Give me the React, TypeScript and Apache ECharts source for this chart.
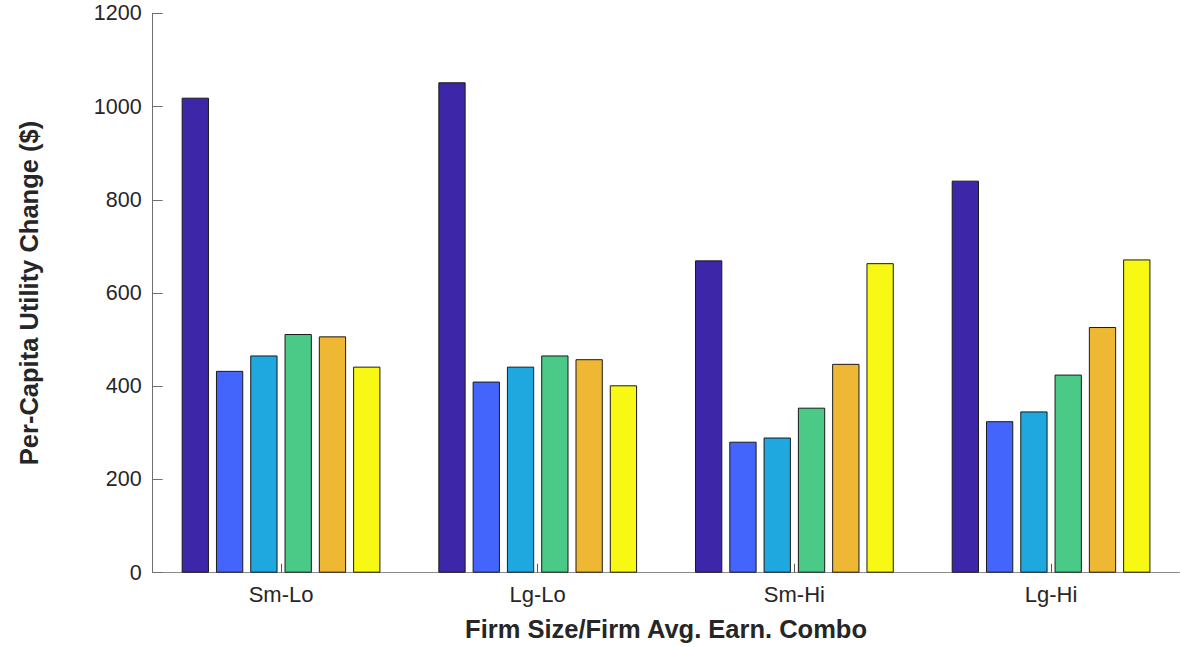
import React, { useEffect, useRef } from "react";
import * as echarts from "echarts";

const categories = ["Sm-Lo", "Lg-Lo", "Sm-Hi", "Lg-Hi"];
const series1 = [1019, 1052, 670, 841];
const series2 = [433, 410, 281, 325];
const series3 = [466, 442, 290, 346];
const series4 = [512, 466, 354, 425];
const series5 = [507, 458, 448, 527];
const series6 = [442, 402, 664, 672];
const seriesData = [series1, series2, series3, series4, series5, series6];
const colors = ["#3E26A8", "#4465FB", "#1EA8DF", "#4ACA86", "#EEB834", "#F8F815"];
const yTicks = [0, 200, 400, 600, 800, 1000, 1200];

export default function App() {
  const ref = useRef<HTMLDivElement>(null);
  useEffect(() => {
    document.body.style.margin = "0";
    const chart = echarts.init(ref.current!, undefined, { renderer: "svg" });
    const font = "Liberation Sans, Arial, Helvetica, sans-serif";
    chart.setOption({
      animation: false,
      backgroundColor: "#ffffff",
      grid: { left: 152.7, right: 0.6, top: 13.3, bottom: 74.3, containLabel: false },
      xAxis: {
        type: "category",
        data: categories,
        name: "Firm Size/Firm Avg. Earn. Combo",
        nameLocation: "middle",
        nameGap: 43,
        nameTextStyle: { fontFamily: font, fontSize: 25.5, fontWeight: "bold", color: "#262626" },
        axisLine: { show: true, lineStyle: { color: "#8a8a8a", width: 1 } },
        axisTick: { show: true, inside: true, length: 9, alignWithLabel: true, lineStyle: { color: "#555555", width: 1 } },
        axisLabel: { fontFamily: font, fontSize: 22, color: "#262626", margin: 11 },
        splitLine: { show: false },
      },
      yAxis: {
        type: "value",
        min: yTicks[0],
        max: yTicks[yTicks.length - 1],
        interval: 200,
        name: "Per-Capita Utility Change ($)",
        nameLocation: "middle",
        nameGap: 111,
        nameTextStyle: { fontFamily: font, fontSize: 25.5, fontWeight: "bold", color: "#262626" },
        axisLine: { show: true, lineStyle: { color: "#6e6e6e", width: 1 } },
        axisTick: { show: true, inside: true, length: 10, lineStyle: { color: "#6e6e6e", width: 1 } },
        axisLabel: {
          fontFamily: font,
          fontSize: 21.5,
          color: "#262626",
          margin: 11,
          formatter: (v: number) => String(v),
        },
        splitLine: { show: false },
      },
      series: seriesData.map((d, i) => ({
        type: "bar",
        name: "S" + (i + 1),
        data: d,
        barWidth: 27.3,
        barGap: "25.6%",
        itemStyle: { color: colors[i], borderColor: "#1a1a1a", borderWidth: 1 },
      })),
    });
    return () => chart.dispose();
  }, []);
  return <div ref={ref} style={{ width: 1180, height: 647 }} />;
}
